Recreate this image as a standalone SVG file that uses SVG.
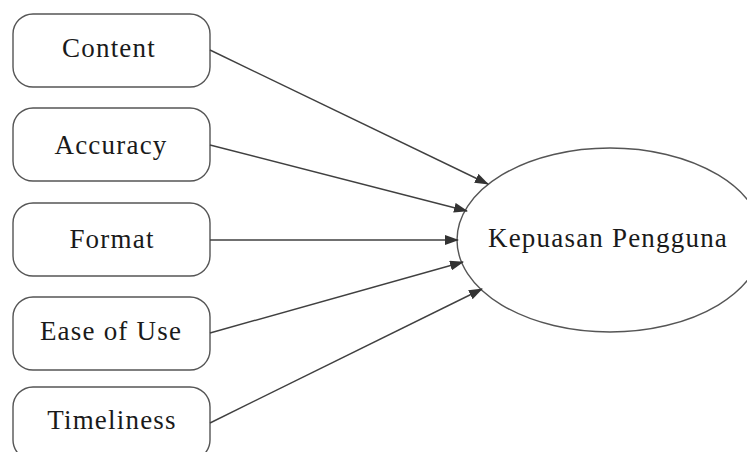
<svg xmlns="http://www.w3.org/2000/svg" width="747" height="452" viewBox="0 0 747 452">
<defs>
<style>
.box{fill:#fff;stroke:#555;stroke-width:1.4}
.lbl{font-family:"Liberation Serif","Times New Roman",serif;font-size:27px;letter-spacing:1.2px;fill:#1a1a1a;text-anchor:middle}
.edge{stroke:#404040;stroke-width:1.4;fill:none;marker-end:url(#ah)}
</style>
<marker id="ah" markerWidth="14" markerHeight="10" refX="13" refY="5" orient="auto" markerUnits="userSpaceOnUse">
<path d="M0,0 L14,5 L0,10 Z" fill="#333"/>
</marker>
</defs>
<rect width="747" height="452" fill="#fff"/>
<g id="content"><rect class="box" x="13" y="14" width="197" height="73" rx="20"/><text class="lbl" x="109" y="57">Content</text></g>
<g id="accuracy"><rect class="box" x="13" y="108" width="197" height="73" rx="20"/><text class="lbl" x="111" y="154">Accuracy</text></g>
<g id="format"><rect class="box" x="13" y="203" width="197" height="73" rx="20"/><text class="lbl" x="112" y="248">Format</text></g>
<g id="ease"><rect class="box" x="13" y="297" width="197" height="73" rx="20"/><text class="lbl" x="111" y="340">Ease of Use</text></g>
<g id="timeliness"><rect class="box" x="13" y="387" width="197" height="73" rx="20"/><text class="lbl" x="112" y="429">Timeliness</text></g>
<g id="kepuasan"><ellipse class="box" cx="610" cy="240" rx="153" ry="92"/><text class="lbl" x="608" y="247">Kepuasan Pengguna</text></g>
<g id="connectors">
<line class="edge" x1="210" y1="50" x2="488" y2="184"/>
<line class="edge" x1="210" y1="145" x2="467" y2="211"/>
<line class="edge" x1="210" y1="240" x2="458" y2="240"/>
<line class="edge" x1="210" y1="333" x2="463" y2="262"/>
<line class="edge" x1="210" y1="423" x2="482" y2="289"/>
</g>
</svg>
